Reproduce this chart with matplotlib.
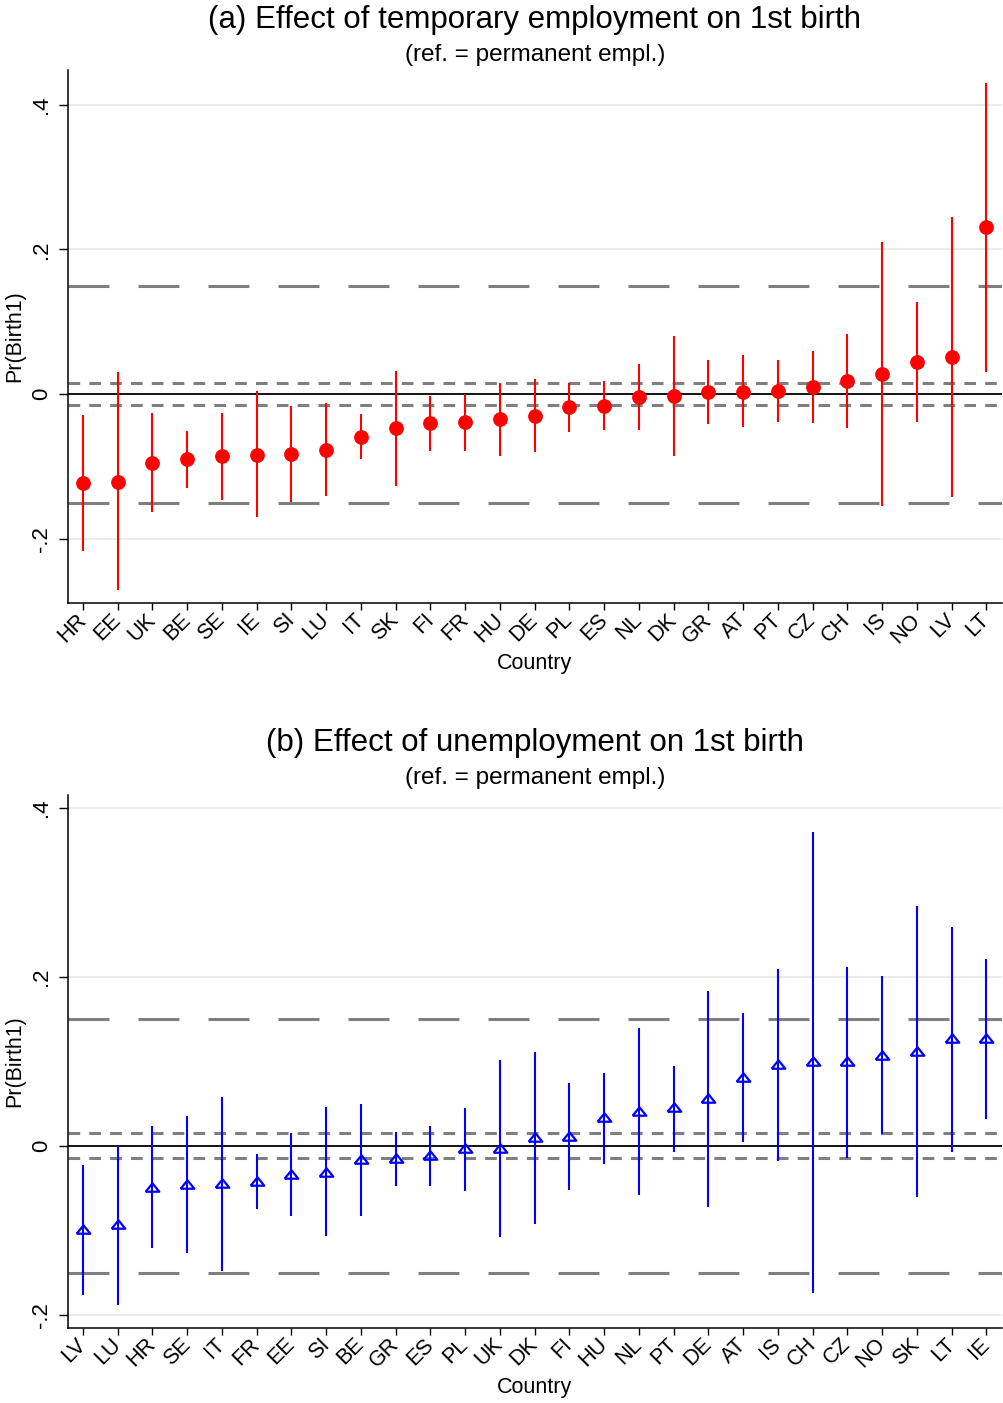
import matplotlib
matplotlib.use("Agg")
import matplotlib.pyplot as plt
import numpy as np

plt.rcParams['font.family'] = ['Liberation Sans', 'DejaVu Sans']
plt.rcParams['lines.scale_dashes'] = False

# (a) temporary employment vs permanent
countries_a = ["HR", "EE", "UK", "BE", "SE", "IE", "SI", "LU", "IT", "SK", "FI", "FR", "HU", "DE",
               "PL", "ES", "NL", "DK", "GR", "AT", "PT", "CZ", "CH", "IS", "NO", "LV", "LT"]
est_a = [-0.123, -0.121, -0.095, -0.090, -0.086, -0.084, -0.083, -0.077, -0.059, -0.047, -0.040, -0.039,
         -0.034, -0.030, -0.018, -0.017, -0.0035, -0.003, 0.003, 0.0035, 0.0044, 0.010, 0.018, 0.028,
         0.045, 0.051, 0.231]
lo_a = [-0.217, -0.270, -0.163, -0.129, -0.146, -0.170, -0.149, -0.141, -0.090, -0.127, -0.078, -0.078,
        -0.085, -0.080, -0.052, -0.050, -0.049, -0.086, -0.041, -0.046, -0.038, -0.040, -0.047, -0.154,
        -0.038, -0.142, 0.031]
hi_a = [-0.029, 0.030, -0.026, -0.051, -0.026, 0.004, -0.016, -0.012, -0.027, 0.032, -0.002, 0.000,
        0.016, 0.021, 0.015, 0.018, 0.042, 0.081, 0.047, 0.054, 0.047, 0.059, 0.083, 0.210, 0.128,
        0.245, 0.430]

# (b) unemployment vs permanent
countries_b = ["LV", "LU", "HR", "SE", "IT", "FR", "EE", "SI", "BE", "GR", "ES", "PL", "UK", "DK",
               "FI", "HU", "NL", "PT", "DE", "AT", "IS", "CH", "CZ", "NO", "SK", "LT", "IE"]
est_b = [-0.099, -0.093, -0.049, -0.045, -0.044, -0.042, -0.033, -0.031, -0.016, -0.015, -0.011, -0.003,
         -0.002, 0.010, 0.012, 0.034, 0.041, 0.046, 0.057, 0.082, 0.097, 0.100, 0.100, 0.108, 0.112,
         0.127, 0.127]
lo_b = [-0.176, -0.188, -0.121, -0.127, -0.148, -0.075, -0.083, -0.107, -0.083, -0.048, -0.048, -0.054,
        -0.108, -0.093, -0.052, -0.021, -0.058, -0.007, -0.072, 0.005, -0.018, -0.174, -0.014, 0.014,
        -0.061, -0.007, 0.032]
hi_b = [-0.023, 0.000, 0.023, 0.035, 0.058, -0.010, 0.015, 0.046, 0.049, 0.016, 0.024, 0.045, 0.102,
        0.111, 0.074, 0.086, 0.139, 0.095, 0.183, 0.157, 0.209, 0.371, 0.211, 0.201, 0.284, 0.259, 0.221]

ref_inner = 0.015
ref_outer = 0.15

fig = plt.figure(figsize=(10.04, 14.03), dpi=100)
ax_a = fig.add_axes([0.0677, 0.5702, 0.9303, 0.3799])
ax_b = fig.add_axes([0.0677, 0.0538, 0.9303, 0.3795])

# triangle marker, wider than tall like Stata's
tri = [(-1, -0.62), (1, -0.62), (0, 0.62), (-1, -0.62)]


def draw_panel(ax, names, est, lo, hi, color, marker, ylim, title, ty, sy):
    x = np.arange(1, len(names) + 1)
    for v in [0.4, 0.2, -0.2]:
        ax.axhline(v, color='#e6e6e6', lw=1.1, zorder=0)
    ax.axhline(0, color='black', lw=1.3, zorder=1)
    for v in [ref_outer, -ref_outer]:
        ax.axhline(v, color='#7f7f7f', lw=2.2, dashes=(29.5, 20.9), zorder=1)
    for v in [ref_inner, -ref_inner]:
        ax.axhline(v, color='#7f7f7f', lw=2.2, dashes=(8.4, 6.6), zorder=1)
    ax.vlines(x, lo, hi, color=color, lw=1.5, zorder=2)
    if marker == 'o':
        ax.plot(x, est, 'o', color=color, ms=9.6, zorder=3)
    else:
        ax.plot(x, est, linestyle='none', marker=tri, ms=9.8, mfc='none', mec=color,
                mew=1.6, zorder=3)
    ax.set_xlim(0.57, 27.45)
    ax.set_ylim(*ylim)
    ax.set_xticks(x)
    ax.set_xticklabels(names, rotation=45, ha='right', va='center', rotation_mode='anchor',
                       fontsize=15.5)
    ax.set_yticks([-0.2, 0, 0.2, 0.4])
    ax.set_yticklabels(['-.2', '0', '.2', '.4'], rotation=90, va='center', fontsize=16)
    ax.tick_params(axis='x', direction='out', length=5, width=1, pad=5)
    ax.tick_params(axis='y', direction='out', length=6.5, width=1, pad=5)
    for s in ['top', 'right']:
        ax.spines[s].set_visible(False)
    for s in ['left', 'bottom']:
        ax.spines[s].set_linewidth(1.1)
    ax.set_xlabel("Country", fontsize=15.5, labelpad=4)
    ax.set_ylabel("Pr(Birth1)", fontsize=15.5, labelpad=4)
    ax.text(0.5, ty, title, transform=ax.transAxes, ha='center', va='center', fontsize=22.5)
    ax.text(0.5, sy, "(ref. = permanent empl.)", transform=ax.transAxes,
            ha='center', va='center', fontsize=17.5)


draw_panel(ax_a, countries_a, est_a, lo_a, hi_a, 'red', 'o', (-0.2886, 0.448),
           "(a) Effect of temporary employment on 1st birth", 1.093, 1.029)
draw_panel(ax_b, countries_b, est_b, lo_b, hi_b, 'blue', '^', (-0.215, 0.415),
           "(b) Effect of unemployment on 1st birth", 1.097, 1.032)

fig.savefig("out.png", dpi=100)
